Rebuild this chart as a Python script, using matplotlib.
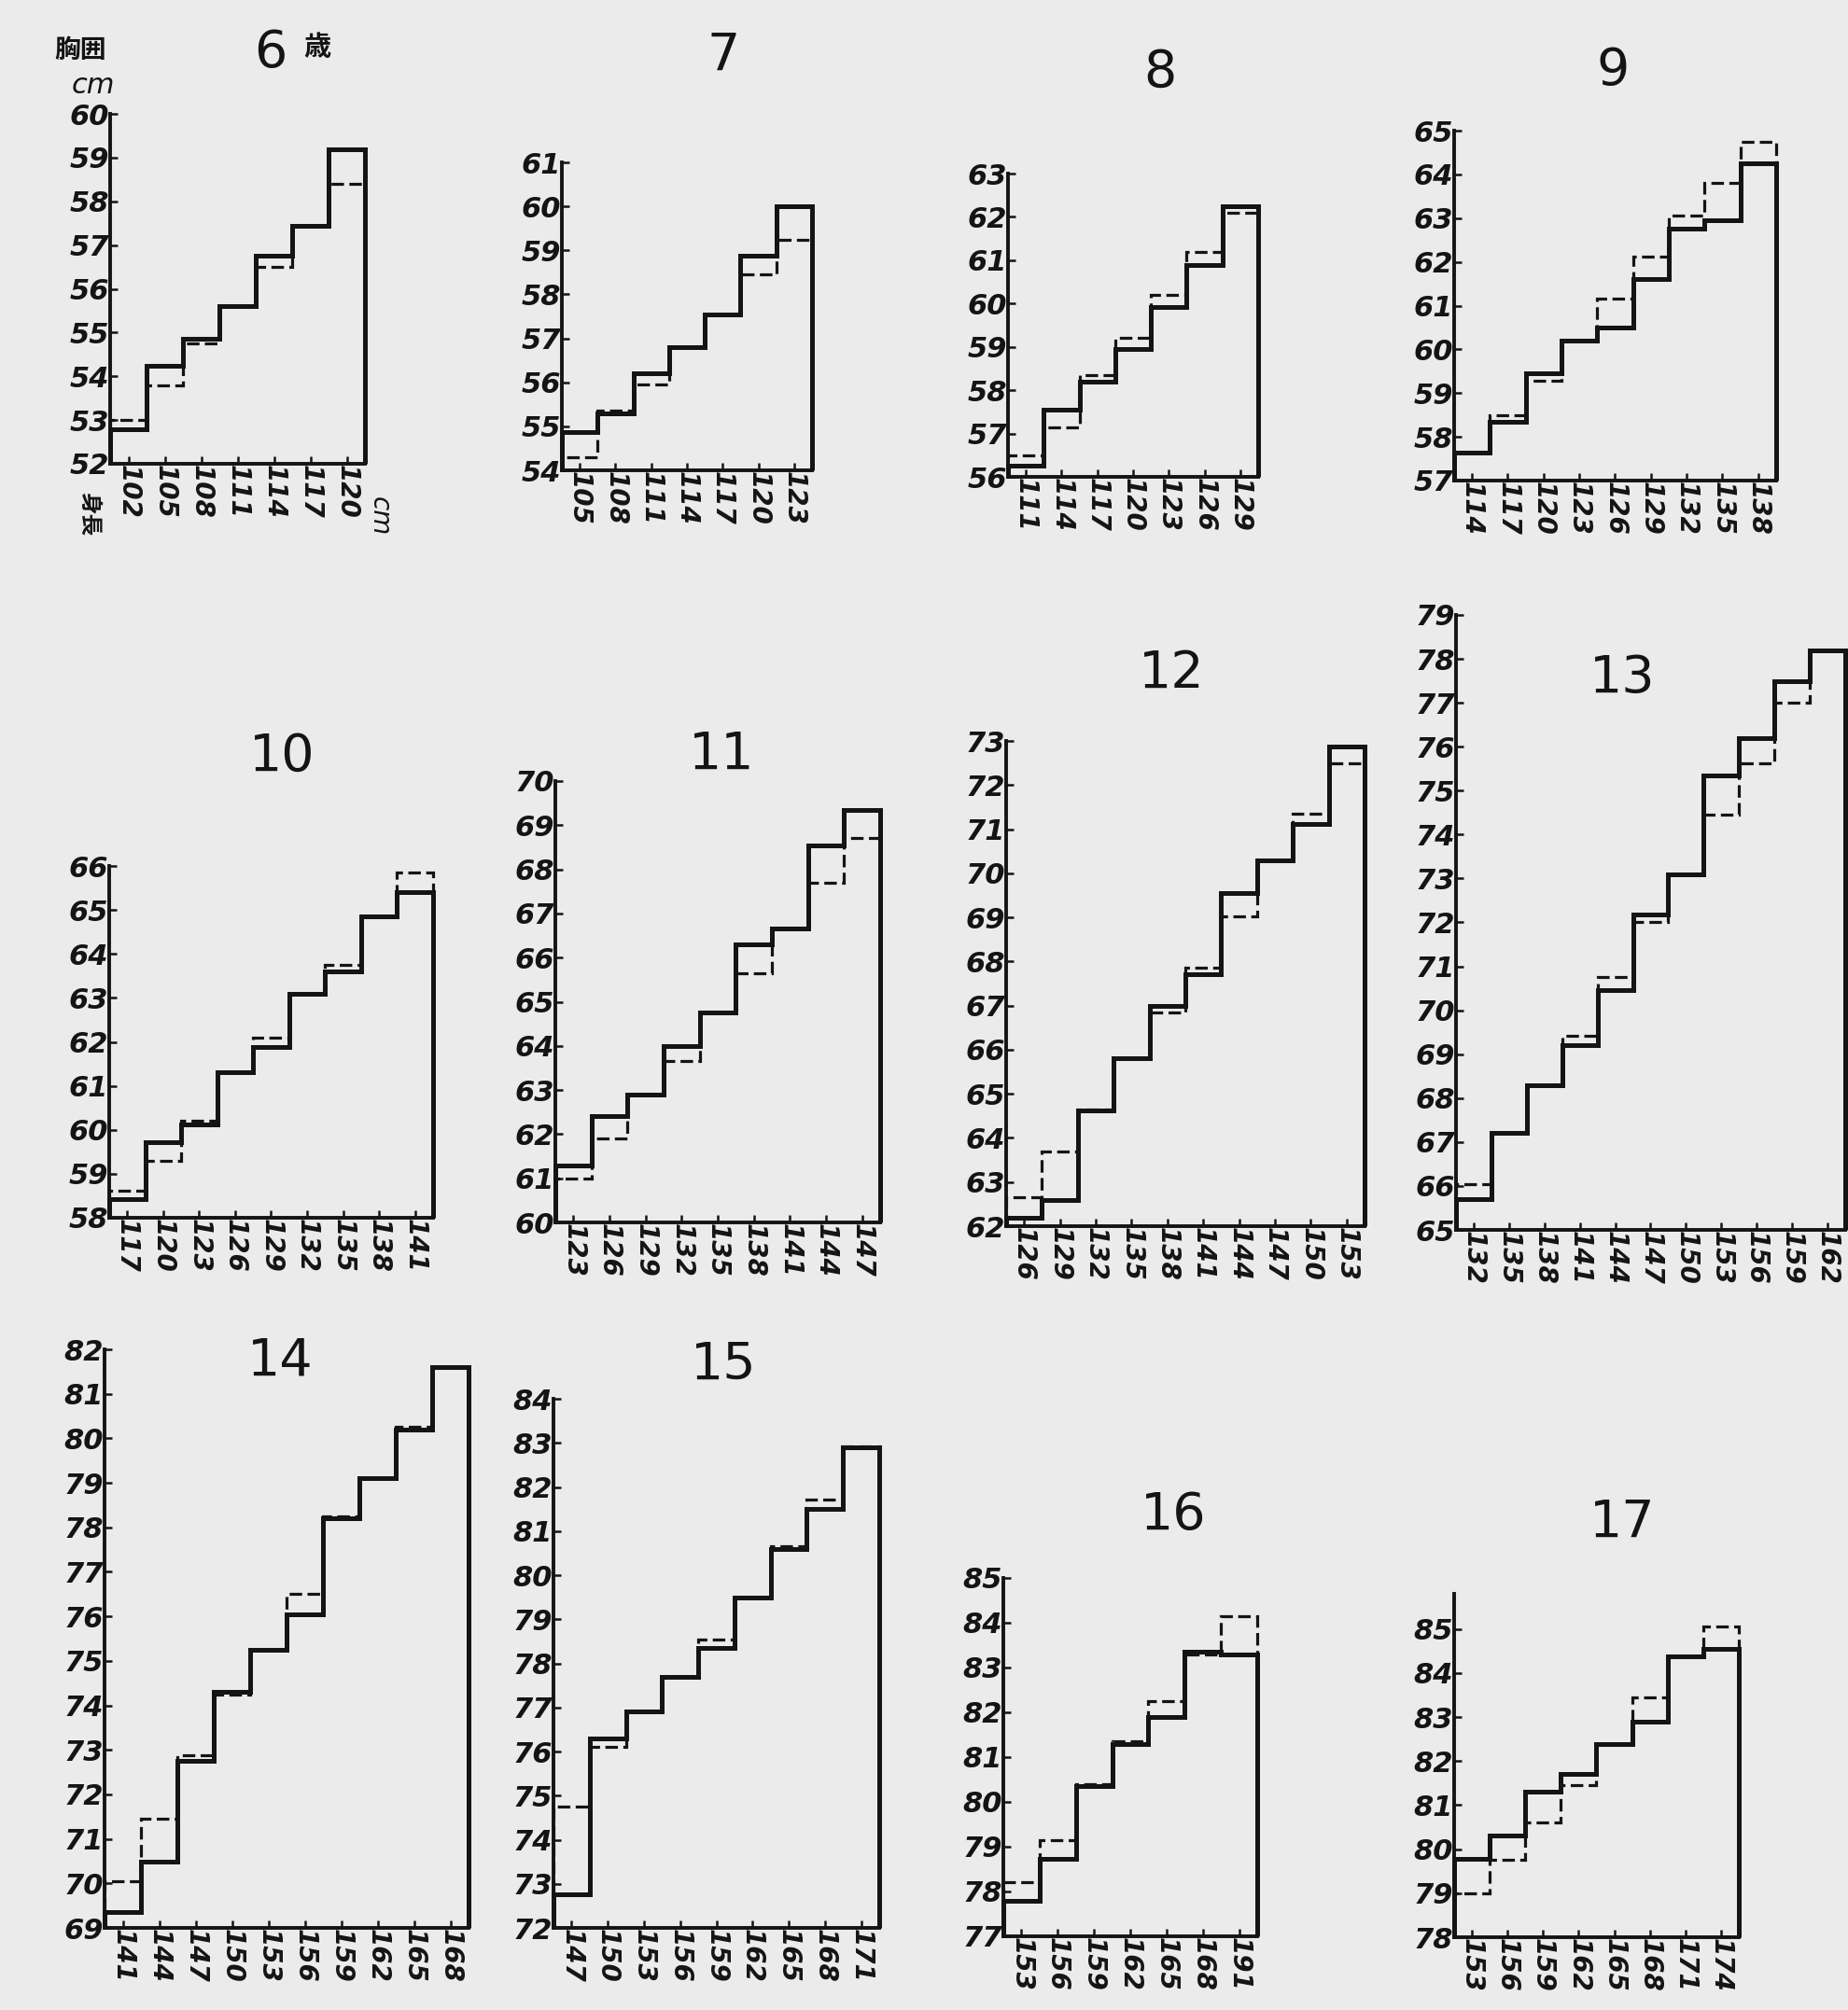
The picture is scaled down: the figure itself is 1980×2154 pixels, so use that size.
import matplotlib
matplotlib.use('Agg')
import matplotlib.pyplot as plt
import numpy as np

W, H = 1981, 2154
ink = '#141414'
paper = '#ebebeb'
cjk = ['Noto Sans CJK JP', 'DejaVu Sans']

# height class centres (cm), solid and dashed chest girth (cm) per age
h6 = [102, 105, 108, 111, 114, 117, 120]
s6 = [52.8, 54.25, 54.85, 55.6, 56.75, 57.45, 59.2]
d6 = [53.0, 53.8, 54.75, 55.6, 56.5, 57.45, 58.4]

h7 = [105, 108, 111, 114, 117, 120, 123]
s7 = [54.88, 55.3, 56.2, 56.8, 57.55, 58.88, 60.0]
d7 = [54.3, 55.35, 55.95, 56.8, 57.55, 58.45, 59.25]

h8 = [111, 114, 117, 120, 123, 126, 129]
s8 = [56.25, 57.55, 58.2, 58.95, 59.92, 60.88, 62.25]
d8 = [56.5, 57.15, 58.35, 59.2, 60.2, 61.2, 62.1]

h9 = [114, 117, 120, 123, 126, 129, 132, 135, 138]
s9 = [57.65, 58.35, 59.45, 60.2, 60.5, 61.6, 62.75, 62.95, 64.25]
d9 = [57.65, 58.5, 59.28, 60.2, 61.15, 62.12, 63.05, 63.8, 64.75]

h10 = [117, 120, 123, 126, 129, 132, 135, 138, 141]
s10 = [58.42, 59.72, 60.12, 61.3, 61.88, 63.1, 63.6, 64.85, 65.4]
d10 = [58.62, 59.3, 60.2, 61.3, 62.1, 63.1, 63.75, 64.85, 65.85]

h11 = [123, 126, 129, 132, 135, 138, 141, 144, 147]
s11 = [61.3, 62.4, 62.9, 64.0, 64.75, 66.3, 66.65, 68.55, 69.35]
d11 = [61.0, 61.9, 62.9, 63.65, 64.75, 65.65, 66.65, 67.7, 68.7]

h12 = [126, 129, 132, 135, 138, 141, 144, 147, 150, 153]
s12 = [62.2, 62.6, 64.62, 65.8, 67.0, 67.72, 69.55, 70.3, 71.12, 72.88]
d12 = [62.65, 63.7, 64.65, 65.8, 66.85, 67.85, 69.03, 70.3, 71.35, 72.5]

h13 = [132, 135, 138, 141, 144, 147, 150, 153, 156, 159, 162]
s13 = [65.7, 67.2, 68.3, 69.2, 70.45, 72.18, 73.1, 75.35, 76.2, 77.5, 78.2]
d13 = [66.05, 67.2, 68.3, 69.42, 70.75, 72.0, 73.1, 74.45, 75.62, 77.0, 78.2]

h14 = [141, 144, 147, 150, 153, 156, 159, 162, 165, 168]
s14 = [69.35, 70.48, 72.75, 74.3, 75.25, 76.05, 78.2, 79.1, 80.2, 81.6]
d14 = [70.05, 71.45, 72.87, 74.25, 75.25, 76.5, 78.25, 79.1, 80.27, 81.6]

h15 = [147, 150, 153, 156, 159, 162, 165, 168, 171]
s15 = [72.77, 76.3, 76.9, 77.7, 78.35, 79.5, 80.6, 81.5, 82.9]
d15 = [74.75, 76.1, 76.9, 77.7, 78.55, 79.5, 80.65, 81.72, 82.92]

h16 = [153, 156, 159, 162, 165, 168, 171]
s16 = [77.8, 78.73, 80.35, 81.3, 81.9, 83.35, 83.3]
d16 = [78.2, 79.15, 80.4, 81.35, 82.25, 83.3, 84.15]
lab16 = ['153', '156', '159', '162', '165', '168', '191']  # as printed

h17 = [153, 156, 159, 162, 165, 168, 171, 174]
s17 = [79.78, 80.3, 81.3, 81.7, 82.38, 82.9, 84.38, 84.55]
d17 = [79.0, 79.75, 80.6, 81.45, 82.38, 83.45, 84.38, 85.05]

fig = plt.figure(figsize=(W / 100, H / 100), dpi=100, facecolor=paper)


def panel(box, heights, solid, dashed, ylo, yhi, title, tpos, labels=None):
    l, t, r, b = box
    ax = fig.add_axes([l / W, 1 - b / H, (r - l) / W, (b - t) / H])
    ax.set_facecolor('none')
    edges = np.append(np.array(heights) - 1.5, heights[-1] + 1.5)
    ax.stairs(dashed, edges, baseline=ylo, color=ink, lw=2.3,
              linestyle=(0, (4.2, 1.8)), clip_on=False)
    ax.stairs(solid, edges, baseline=ylo, color=ink, lw=3.6, clip_on=False)
    ax.set_xlim(edges[0], edges[-1])
    ax.set_ylim(ylo, yhi)
    for side in ['top', 'right']:
        ax.spines[side].set_visible(False)
    for side in ['left', 'bottom']:
        ax.spines[side].set_linewidth(2.8)
        ax.spines[side].set_color(ink)
    ax.set_xticks(heights)
    ax.set_xticklabels(labels if labels else [str(v) for v in heights],
                       rotation=-90, fontsize=20, style='italic',
                       weight='bold', color=ink)
    yt = np.arange(ylo, int(yhi) + 1)
    ax.set_yticks(yt)
    ax.set_yticklabels([str(v) for v in yt], fontsize=22, style='italic',
                       weight='bold', color=ink)
    ax.tick_params(direction='in', length=6, width=1.8, color=ink, pad=1)
    fig.text(tpos[0] / W, 1 - tpos[1] / H, title, fontsize=40, color=ink,
             ha='center', va='center')
    return ax


panel((118, 122, 391, 497), h6, s6, d6, 52, 60, '6', (290, 57))
panel((602, 174, 870, 504), h7, s7, d7, 54, 61, '7', (775, 60))
panel((1080, 186, 1348, 511), h8, s8, d8, 56, 63, '8', (1243, 78))
panel((1558, 140, 1903, 515), h9, s9, d9, 57, 65, '9', (1728, 76))
panel((117, 928, 464, 1305), h10, s10, d10, 58, 66, '10', (302, 811))
panel((595, 837, 943, 1310), h11, s11, d11, 60, 70, '11', (773, 809))
panel((1078, 794, 1462, 1314), h12, s12, d12, 62, 73, '12', (1255, 722))
panel((1560, 659, 1977, 1318), h13, s13, d13, 65, 79, '13', (1738, 727))
panel((112, 1446, 502, 2066), h14, s14, d14, 69, 82, '14', (300, 1458))
panel((593, 1499, 942, 2066), h15, s15, d15, 72, 84, '15', (775, 1463))
panel((1075, 1691, 1347, 2075), h16, s16, d16, 77, 85, '16', (1257, 1624), lab16)
panel((1558, 1708, 1863, 2076), h17, s17, d17, 78, 85.8, '17', (1738, 1632))

# axis captions of the first panel
fig.text(340 / W, 1 - 50 / H, '歳', fontsize=21, family=cjk, color=ink,
         ha='center', va='center', weight='bold')
fig.text(86 / W, 1 - 54 / H, '胸囲', fontsize=20, family=cjk, color=ink,
         ha='center', va='center', weight='bold')
fig.text(100 / W, 1 - 92 / H, 'cm', fontsize=22, style='italic', color=ink,
         ha='center', va='center')
fig.text(95 / W, 1 - 551 / H, '身長', fontsize=17, family=cjk, color=ink,
         rotation=-90, ha='center', va='center', weight='bold')
fig.text(407 / W, 1 - 553 / H, 'cm', fontsize=20, style='italic', color=ink,
         rotation=-90, ha='center', va='center')

fig.savefig('out.png', dpi=100, facecolor=paper)
